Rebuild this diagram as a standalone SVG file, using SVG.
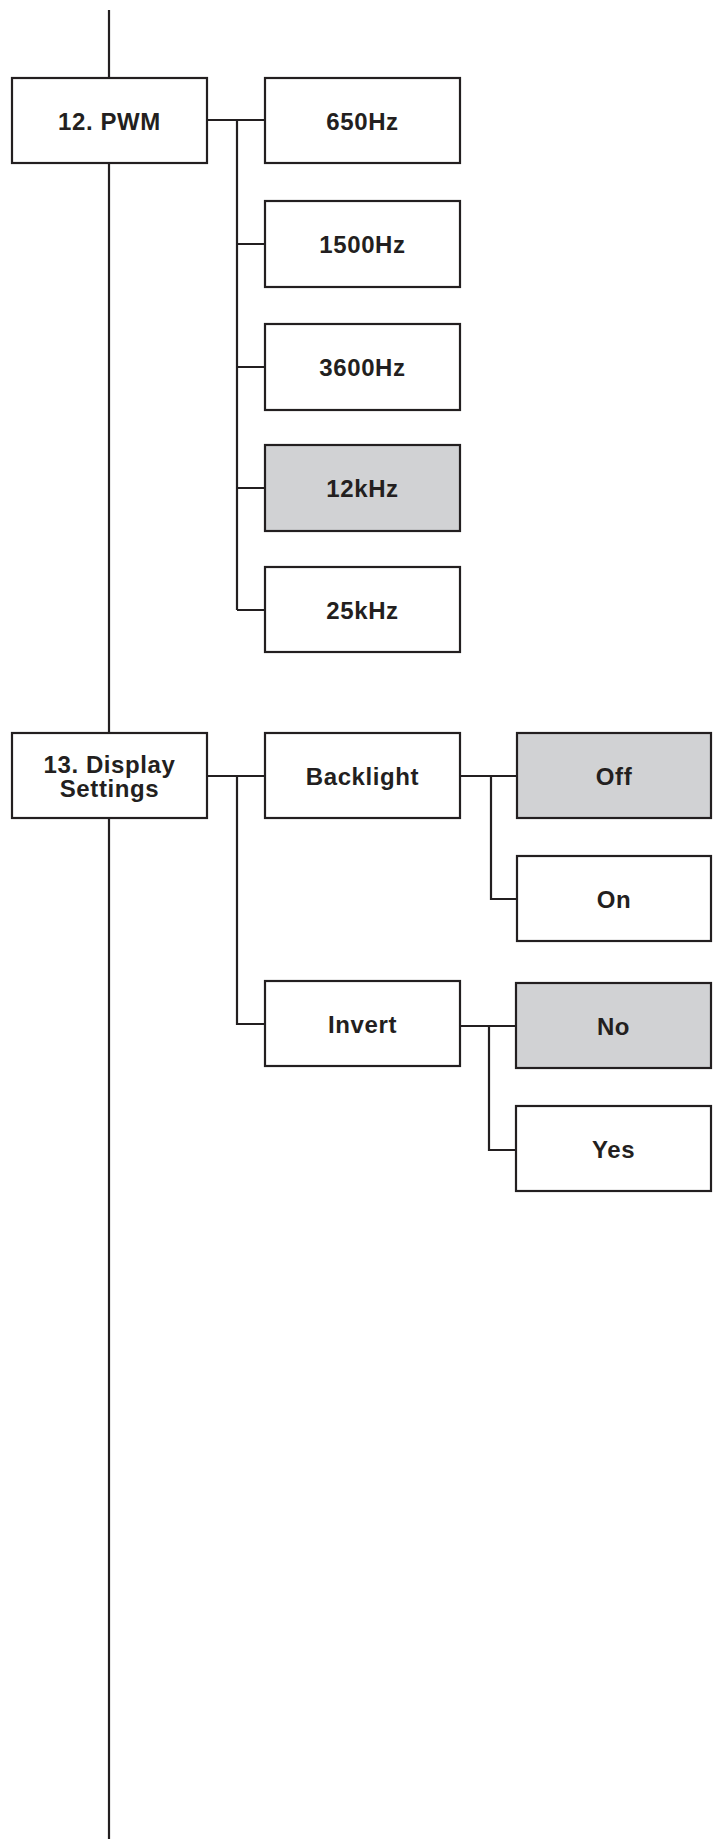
<svg xmlns="http://www.w3.org/2000/svg" width="713" height="1839" viewBox="0 0 713 1839">
<style>
.box{fill:#ffffff;stroke:#231f20;stroke-width:2.2}
.sel{fill:#d1d2d4;stroke:#231f20;stroke-width:2.2}
.ln{fill:none;stroke:#231f20;stroke-width:2.2}
text{font-family:"Liberation Sans",Arial,sans-serif;font-weight:bold;font-size:24px;letter-spacing:0.6px;fill:#231f20;text-anchor:middle}
</style>
<rect width="713" height="1839" fill="#ffffff"/>
<g id="connectors">
<path class="ln" d="M109 10V78M109 163V733M109 818V1839"/>
<path class="ln" d="M207 120H265M237 120V610M237 244H265M237 367H265M237 488H265M237 610H265"/>
<path class="ln" d="M207 776H265M237 776V1024H265"/>
<path class="ln" d="M460 776H517M491 776V899H517"/>
<path class="ln" d="M460 1026H516M489 1026V1150H516"/>
</g>
<g id="n-pwm"><rect class="box" x="12" y="78" width="195" height="85"/><text x="109.5" y="129.5">12. PWM</text></g>
<g id="n-650"><rect class="box" x="265" y="78" width="195" height="85"/><text x="362.5" y="129.5">650Hz</text></g>
<g id="n-1500"><rect class="box" x="265" y="201" width="195" height="86"/><text x="362.5" y="253">1500Hz</text></g>
<g id="n-3600"><rect class="box" x="265" y="324" width="195" height="86"/><text x="362.5" y="376">3600Hz</text></g>
<g id="n-12k"><rect class="sel" x="265" y="445" width="195" height="86"/><text x="362.5" y="497">12kHz</text></g>
<g id="n-25k"><rect class="box" x="265" y="567" width="195" height="85"/><text x="362.5" y="618.5">25kHz</text></g>
<g id="n-display"><rect class="box" x="12" y="733" width="195" height="85"/><text x="109.5" y="772.5">13. Display</text><text x="109.5" y="796.5">Settings</text></g>
<g id="n-backlight"><rect class="box" x="265" y="733" width="195" height="85"/><text x="362.5" y="784.5">Backlight</text></g>
<g id="n-off"><rect class="sel" x="517" y="733" width="194" height="85"/><text x="614" y="784.5">Off</text></g>
<g id="n-on"><rect class="box" x="517" y="856" width="194" height="85"/><text x="614" y="907.5">On</text></g>
<g id="n-invert"><rect class="box" x="265" y="981" width="195" height="85"/><text x="362.5" y="1032.5">Invert</text></g>
<g id="n-no"><rect class="sel" x="516" y="983" width="195" height="85"/><text x="613.5" y="1034.5">No</text></g>
<g id="n-yes"><rect class="box" x="516" y="1106" width="195" height="85"/><text x="613.5" y="1157.5">Yes</text></g>
</svg>
